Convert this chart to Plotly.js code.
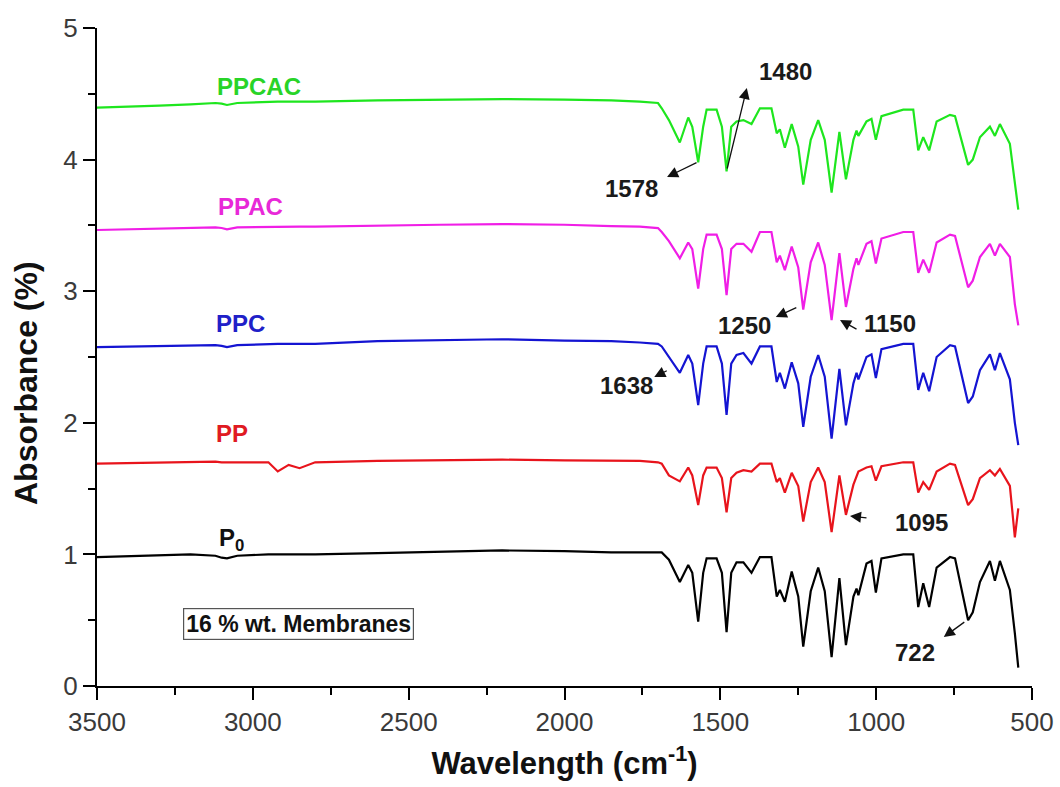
<!DOCTYPE html>
<html>
<head>
<meta charset="utf-8">
<script src="https://cdn.plot.ly/plotly-3.0.1.min.js"></script>
<style>html,body{margin:0;padding:0;background:#fff;}#chart{width:1060px;height:787px;}</style>
</head>
<body>
<div id="chart"></div>
<script>
// Wavenumber (cm-1), shared by all spectra
var wavenumber = [3500, 3400, 3300, 3200, 3120, 3100, 3083, 3050, 2950, 2920, 2885, 2850, 2800, 2600, 2400, 2200, 2000, 1850, 1758,
  1700, 1688, 1665, 1630, 1603, 1590, 1571, 1555, 1544, 1512,
  1495, 1480, 1465, 1448, 1426, 1400, 1373, 1336, 1319, 1309,
  1293, 1271, 1250, 1234, 1210, 1186, 1165, 1143, 1118, 1097,
  1073, 1063, 1057, 1031, 1015, 1001, 983, 913, 881, 865,
  849, 830, 806, 763, 747, 705, 690, 667, 635, 619,
  603, 571, 555, 544];

var absP0 = [0.98, 0.985, 0.995, 1.0, 0.99, 0.975, 0.97, 0.99, 1.0, 1.0, 1.0, 1.0, 1.0, 1.01, 1.02, 1.03, 1.025, 1.015, 1.015,
  1.015, 1.015, 0.96, 0.79, 0.92, 0.86, 0.49, 0.86, 0.97, 0.97,
  0.86, 0.41, 0.86, 0.94, 0.94, 0.86, 0.98, 0.98, 0.68, 0.73,
  0.64, 0.87, 0.68, 0.30, 0.72, 0.90, 0.72, 0.22, 0.82, 0.31,
  0.68, 0.74, 0.69, 0.93, 0.95, 0.71, 0.97, 1.00, 1.00, 0.60,
  0.78, 0.60, 0.90, 0.98, 0.97, 0.50, 0.56, 0.79, 0.95, 0.80,
  0.95, 0.73, 0.40, 0.14];

var absPP = [1.69, 1.695, 1.70, 1.70, 1.705, 1.70, 1.70, 1.70, 1.70, 1.63, 1.68, 1.655, 1.70, 1.71, 1.715, 1.72, 1.715, 1.71, 1.71,
  1.70, 1.69, 1.60, 1.555, 1.66, 1.60, 1.375, 1.60, 1.66, 1.66,
  1.58, 1.32, 1.58, 1.62, 1.64, 1.63, 1.69, 1.69, 1.55, 1.58,
  1.47, 1.62, 1.52, 1.25, 1.55, 1.66, 1.55, 1.17, 1.60, 1.30,
  1.53, 1.60, 1.63, 1.66, 1.67, 1.56, 1.67, 1.70, 1.70, 1.47,
  1.55, 1.49, 1.63, 1.69, 1.68, 1.375, 1.42, 1.58, 1.64, 1.60,
  1.65, 1.52, 1.13, 1.35];

var absPPC = [2.575, 2.58, 2.585, 2.59, 2.59, 2.585, 2.575, 2.59, 2.60, 2.60, 2.60, 2.60, 2.60, 2.62, 2.625, 2.635, 2.625, 2.62, 2.61,
  2.60, 2.58, 2.50, 2.38, 2.515, 2.45, 2.135, 2.45, 2.58, 2.58,
  2.45, 2.06, 2.45, 2.515, 2.53, 2.45, 2.58, 2.58, 2.31, 2.38,
  2.26, 2.46, 2.30, 1.97, 2.35, 2.515, 2.35, 1.88, 2.41, 1.98,
  2.30, 2.38, 2.33, 2.50, 2.52, 2.34, 2.56, 2.60, 2.60, 2.25,
  2.38, 2.24, 2.50, 2.59, 2.58, 2.15, 2.20, 2.40, 2.52, 2.40,
  2.53, 2.33, 2.00, 1.83];

var absPPAC = [3.465, 3.47, 3.475, 3.48, 3.485, 3.48, 3.47, 3.485, 3.49, 3.49, 3.49, 3.49, 3.49, 3.50, 3.505, 3.51, 3.505, 3.495, 3.49,
  3.48, 3.45, 3.38, 3.25, 3.37, 3.32, 3.02, 3.32, 3.43, 3.43,
  3.32, 2.97, 3.32, 3.36, 3.36, 3.30, 3.45, 3.45, 3.22, 3.27,
  3.16, 3.34, 3.18, 2.86, 3.22, 3.37, 3.20, 2.78, 3.29, 2.88,
  3.17, 3.25, 3.20, 3.36, 3.38, 3.21, 3.40, 3.45, 3.45, 3.14,
  3.24, 3.14, 3.37, 3.43, 3.42, 3.03, 3.08, 3.26, 3.36, 3.27,
  3.36, 3.26, 2.90, 2.74];

var absPPCAC = [4.395, 4.40, 4.41, 4.42, 4.43, 4.425, 4.415, 4.43, 4.44, 4.44, 4.44, 4.44, 4.44, 4.45, 4.455, 4.46, 4.455, 4.45, 4.44,
  4.43, 4.39, 4.30, 4.13, 4.32, 4.25, 3.98, 4.25, 4.38, 4.38,
  4.25, 3.91, 4.25, 4.29, 4.30, 4.27, 4.39, 4.39, 4.20, 4.23,
  4.09, 4.27, 4.10, 3.81, 4.15, 4.30, 4.15, 3.75, 4.21, 3.85,
  4.15, 4.22, 4.18, 4.29, 4.31, 4.15, 4.33, 4.38, 4.38, 4.07,
  4.17, 4.07, 4.29, 4.34, 4.33, 3.96, 4.00, 4.17, 4.25, 4.18,
  4.27, 4.12, 3.80, 3.62];

var seriesNames = ['P<sub>0</sub>', 'PP', 'PPC', 'PPAC', 'PPCAC'];
var seriesColors = ['#000000', '#e8141c', '#1414d2', '#f01ee6', '#1ee61e'];
var labelColors = ['#111111', '#e01a22', '#2020c8', '#e828d8', '#28d428'];
var labelX = [3067, 3067, 3041, 3009, 2980];
var labelY = [1.11, 1.92, 2.758, 3.64, 4.559];

// Peak markers
var peakText = ['1480', '1578', '1250', '1150', '1638', '1095', '722'];
var peakTextX = [1290, 1784, 1421, 956, 1800, 853, 876];
var peakTextY = [4.666, 3.784, 2.743, 2.758, 2.287, 1.239, 0.251];
var arrowX = [1415, 1671, 1322, 1116, 1712, 1084, 783];
var arrowY = [4.544, 3.868, 2.804, 2.781, 2.348, 1.292, 0.372];
var arrowAX = [-20, 31, 22, 18, 14, 18, 22];
var arrowAY = [82, -15, -10, 10, -7, 2, -16];

var FONT = 'Liberation Sans, Arial, sans-serif';
var ys = [absP0, absPP, absPPC, absPPAC, absPPCAC];
var traces = ys.map(function (y, i) {
  return {x: wavenumber, y: y, type: 'scatter', mode: 'lines', name: seriesNames[i],
    line: {color: seriesColors[i], width: 2.2}, hoverinfo: 'x+y'};
});

var annotations = [];
for (var i = 0; i < seriesNames.length; i++) {
  annotations.push({x: labelX[i], y: labelY[i], xref: 'x', yref: 'y', text: '<b>' + seriesNames[i] + '</b>',
    showarrow: false, font: {family: FONT, size: 24, color: labelColors[i]}});
}
for (var j = 0; j < peakText.length; j++) {
  annotations.push({x: peakTextX[j], y: peakTextY[j], xref: 'x', yref: 'y', text: '<b>' + peakText[j] + '</b>',
    showarrow: false, font: {family: FONT, size: 24, color: '#1a1a1a'}});
  annotations.push({x: arrowX[j], y: arrowY[j], xref: 'x', yref: 'y', text: '', showarrow: true,
    ax: arrowAX[j], ay: arrowAY[j], arrowhead: 2, arrowsize: 1.7, arrowwidth: 1.3, arrowcolor: '#111'});
}
annotations.push({x: 2852, y: 0.471, xref: 'x', yref: 'y', text: '<b>16 % wt. Membranes</b>', showarrow: false,
  font: {family: FONT, size: 23, color: '#111'},
  bordercolor: '#555', borderwidth: 1.2, borderpad: 2, bgcolor: '#fff'});
// y-axis title
annotations.push({xref: 'paper', yref: 'paper', x: 0, y: (686 - 383) / 658, xshift: -71, xanchor: 'center', yanchor: 'middle',
  textangle: -90, showarrow: false, text: '<b>Absorbance (%)</b>', font: {family: FONT, size: 32, color: '#111'}});

var layout = {
  width: 1060, height: 787,
  margin: {l: 97, r: 28, t: 28, b: 101},
  paper_bgcolor: '#fff', plot_bgcolor: '#fff',
  showlegend: false,
  xaxis: {
    range: [3500, 500], tick0: 500, dtick: 500, showgrid: false, zeroline: false,
    showline: true, linecolor: '#000', linewidth: 2,
    ticks: 'outside', ticklen: 12, tickwidth: 2, tickcolor: '#000',
    minor: {dtick: 250, ticks: 'outside', ticklen: 7, tickwidth: 2, tickcolor: '#000', showgrid: false},
    tickfont: {family: FONT, size: 26, color: '#3a3a3a'},
    title: {text: '<b>Wavelength (cm<sup>-1</sup>)</b>', standoff: 16,
      font: {family: FONT, size: 31, color: '#111'}}
  },
  yaxis: {
    range: [0, 5], tick0: 0, dtick: 1, showgrid: false, zeroline: false,
    showline: true, linecolor: '#000', linewidth: 2,
    ticks: 'outside', ticklen: 12, tickwidth: 2, tickcolor: '#000',
    minor: {dtick: 0.5, ticks: 'outside', ticklen: 7, tickwidth: 2, tickcolor: '#000', showgrid: false},
    tickfont: {family: FONT, size: 26, color: '#3a3a3a'}
  },
  annotations: annotations
};

Plotly.newPlot('chart', traces, layout, {displayModeBar: false, staticPlot: true});
</script>
</body>
</html>
